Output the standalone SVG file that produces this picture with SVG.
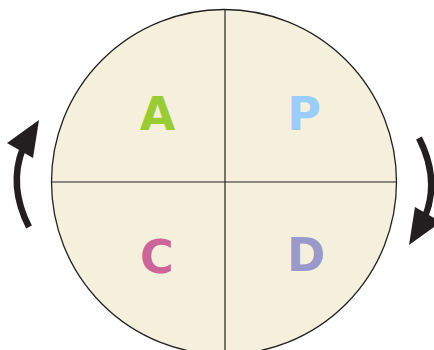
<svg xmlns="http://www.w3.org/2000/svg" width="434" height="350" viewBox="0 0 434 350">
<style>
.lbl{font-family:"DejaVu Sans","Verdana",sans-serif;font-weight:bold;font-size:46px;text-anchor:middle}
.ln{stroke:#222;stroke-width:1.2;fill:none}
.shaft{stroke:#231f20;stroke-width:6.5;fill:none;stroke-linecap:butt}
.head{fill:#231f20}
</style>
<defs>
<g id="arrow">
<path class="shaft" d="M29,227 Q8,186 23,148"/>
<polygon class="head" points="39,120 7,143 33,158"/>
</g>
</defs>
<g id="circle">
<circle cx="224" cy="182" r="172.5" fill="#f5f0dc" stroke="#222" stroke-width="1.3"/>
<line class="ln" x1="225" y1="9" x2="225" y2="355"/>
<line class="ln" x1="51.5" y1="182" x2="396.5" y2="182"/>
</g>
<g id="node-A"><text class="lbl" x="157.5" y="130" fill="#99cc33">A</text></g>
<g id="node-P"><text class="lbl" x="304" y="130" fill="#99ccff">P</text></g>
<g id="node-C"><text class="lbl" x="157" y="273" fill="#cc6699">C</text></g>
<g id="node-D"><text class="lbl" x="306" y="271" fill="#9999cc">D</text></g>
<g id="connectors">
<use href="#arrow"/>
<use href="#arrow" transform="rotate(180 224 182.5)"/>
</g>
</svg>
